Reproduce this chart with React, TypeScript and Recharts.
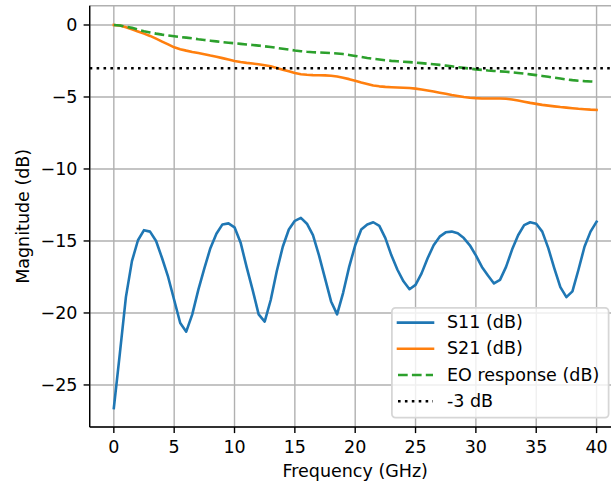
import React from 'react';
import { LineChart, Line, XAxis, YAxis, CartesianGrid, ReferenceLine, Legend } from 'recharts';

// Frequency grid (GHz)
const freqGHz = [
  0, 0.5, 1, 1.5, 2, 2.5, 3, 3.5, 4, 4.5,
  5, 5.5, 6, 6.5, 7, 7.5, 8, 8.5, 9, 9.5,
  10, 10.5, 11, 11.5, 12, 12.5, 13, 13.5, 14, 14.5,
  15, 15.5, 16, 16.5, 17, 17.5, 18, 18.5, 19, 19.5,
  20, 20.5, 21, 21.5, 22, 22.5, 23, 23.5, 24, 24.5,
  25, 25.5, 26, 26.5, 27, 27.5, 28, 28.5, 29, 29.5,
  30, 30.5, 31, 31.5, 32, 32.5, 33, 33.5, 34, 34.5,
  35, 35.5, 36, 36.5, 37, 37.5, 38, 38.5, 39, 39.5,
  40,
];

const s11dB = [
  -26.6, -22.8, -18.9, -16.4, -14.95, -14.25, -14.35, -15.0, -16.2, -17.5,
  -19.1, -20.7, -21.3, -20.1, -18.4, -16.9, -15.5, -14.5, -13.85, -13.78,
  -14.05, -15.1, -16.8, -18.4, -20.1, -20.6, -19.1, -17.1, -15.4, -14.2,
  -13.6, -13.4, -13.8, -14.6, -16.0, -17.6, -19.2, -20.1, -18.6, -16.8,
  -15.3, -14.2, -13.85, -13.7, -13.95, -14.8, -16.0, -17.0, -17.8, -18.35,
  -18.05, -17.25, -16.2, -15.3, -14.7, -14.4, -14.35, -14.47, -14.8, -15.3,
  -16.0, -16.8, -17.4, -17.95, -17.7, -16.8, -15.6, -14.6, -13.9, -13.7,
  -13.8, -14.35, -15.5, -16.9, -18.2, -18.9, -18.5, -17.0, -15.4, -14.35,
  -13.66,
];

const s21dB = [
  0, -0.03, -0.15, -0.3, -0.45, -0.6, -0.76, -0.95, -1.15, -1.35,
  -1.55, -1.68, -1.78, -1.87, -1.95, -2.03, -2.12, -2.2, -2.3, -2.4,
  -2.5, -2.57, -2.63, -2.68, -2.73, -2.79, -2.87, -2.98, -3.1, -3.22,
  -3.34, -3.42, -3.46, -3.48, -3.49, -3.5, -3.53, -3.58, -3.66, -3.76,
  -3.88, -4.0, -4.1, -4.2, -4.26, -4.3, -4.32, -4.34, -4.36, -4.38,
  -4.42, -4.48, -4.55, -4.62, -4.7, -4.78, -4.86, -4.93, -5.0, -5.05,
  -5.08, -5.1, -5.1, -5.1, -5.1, -5.12, -5.17, -5.25, -5.33, -5.41,
  -5.48, -5.55, -5.6, -5.65, -5.7, -5.74, -5.78, -5.82, -5.85, -5.88,
  -5.9,
];

const eoDB = [
  0, -0.04, -0.12, -0.2, -0.32, -0.44, -0.52, -0.6, -0.67, -0.73,
  -0.78, -0.83, -0.88, -0.93, -0.99, -1.04, -1.09, -1.14, -1.19, -1.23,
  -1.27, -1.31, -1.35, -1.39, -1.43, -1.48, -1.53, -1.59, -1.65, -1.71,
  -1.77, -1.82, -1.86, -1.89, -1.91, -1.93, -1.95, -1.98, -2.02, -2.08,
  -2.15, -2.22, -2.29, -2.35, -2.4, -2.45, -2.49, -2.52, -2.55, -2.58,
  -2.61, -2.65, -2.69, -2.73, -2.77, -2.82, -2.87, -2.93, -2.98, -3.03,
  -3.08, -3.12, -3.16, -3.19, -3.22, -3.25, -3.29, -3.33, -3.38, -3.43,
  -3.48, -3.54, -3.6, -3.66, -3.72, -3.78, -3.83, -3.87, -3.9, -3.92,
  -3.94,
];

const thresholdDB = -3;
const xTicks = [0, 5, 10, 15, 20, 25, 30, 35, 40];
const yTicks = [-25, -20, -15, -10, -5, 0];
const xDomain = [-2, 42];
const yDomain = [-27.92, 1.34];
const seriesLabels = ['S11 (dB)', 'S21 (dB)', 'EO response (dB)', '-3 dB'];
const xLabel = 'Frequency (GHz)';
const yLabel = 'Magnitude (dB)';

const data = freqGHz.map((f, i) => ({ f, s11: s11dB[i], s21: s21dB[i], eo: eoDB[i] }));

// Styling / layout
const FONT = 'DejaVu Sans';
const FS = 17.5;
const LW = 2.6;
const SPINE = 1.4;
const C1 = '#1f77b4';
const C2 = '#ff7f0e';
const C3 = '#2ca02c';
const EO_DASH = '9.7 4.2';
const DOT_DASH = '2.6 4.3';

const CHART_W = 640;
const CHART_H = 487;
const M_TOP = 5.7;
const M_RIGHT = 19.3;
const Y_AXIS_W = 89.7;
const X_AXIS_H = 60;
const PLOT_LEFT = Y_AXIS_W;
const PLOT_RIGHT = CHART_W - M_RIGHT;
const PLOT_TOP = M_TOP;
const PLOT_BOTTOM = CHART_H - X_AXIS_H;

const legendItems = [
  { label: seriesLabels[0], color: C1, dash: undefined as string | undefined, cap: 'square' },
  { label: seriesLabels[1], color: C2, dash: undefined as string | undefined, cap: 'square' },
  { label: seriesLabels[2], color: C3, dash: EO_DASH, cap: 'butt' },
  { label: seriesLabels[3], color: '#000', dash: DOT_DASH, cap: 'butt' },
];

const LEG_W = 218.5;
const LEG_H = 111.5;

const LegendBox = () => (
  <svg width={LEG_W + 2} height={LEG_H + 2} style={{ display: 'block', overflow: 'visible' }}>
    <rect
      x={0.9}
      y={0.9}
      width={LEG_W - 1.8}
      height={LEG_H - 1.8}
      rx={3.5}
      ry={3.5}
      fill="rgba(255,255,255,0.8)"
      stroke="#d6d6d6"
      strokeWidth={1.75}
    />
    {legendItems.map((it, i) => {
      const cy = 15.6 + i * 26.2;
      return (
        <g key={it.label}>
          <line
            x1={7}
            x2={42}
            y1={cy}
            y2={cy}
            stroke={it.color}
            strokeWidth={LW}
            strokeDasharray={it.dash}
            strokeLinecap={it.cap as any}
          />
          <text x={56} y={cy + 5.5} fontFamily={FONT} fontSize={FS} fill="#000">
            {it.label}
          </text>
        </g>
      );
    })}
  </svg>
);

const fmtY = (v: number) => String(v).replace('-', '\u2212');

export default function App() {
  return (
    <div
      style={{
        position: 'absolute',
        left: 0,
        top: 0,
        width: 611,
        height: 487,
        overflow: 'hidden',
        background: '#fff',
      }}
    >
      <LineChart
        width={CHART_W}
        height={CHART_H}
        data={data}
        margin={{ top: M_TOP, right: M_RIGHT, bottom: 0, left: 0 }}
        style={{ fontFamily: FONT }}
      >
        <CartesianGrid stroke="#b0b0b0" strokeWidth={SPINE} />
        <XAxis
          dataKey="f"
          type="number"
          domain={xDomain}
          ticks={xTicks}
          allowDataOverflow
          height={X_AXIS_H}
          axisLine={{ stroke: '#000', strokeWidth: SPINE }}
          tickLine={{ stroke: '#000', strokeWidth: SPINE }}
          tickSize={6.1}
          tickMargin={7}
          tick={{ fill: '#000', fontSize: FS, fontFamily: FONT }}
          label={() => (
            <text
              x={(PLOT_LEFT + PLOT_RIGHT) / 2}
              y={477}
              textAnchor="middle"
              fontFamily={FONT}
              fontSize={FS}
              fill="#000"
            >
              {xLabel}
            </text>
          )}
        />
        <XAxis
          xAxisId="top"
          orientation="top"
          dataKey="f"
          type="number"
          domain={xDomain}
          allowDataOverflow
          height={0}
          tick={false}
          tickLine={false}
          axisLine={{ stroke: '#000', strokeWidth: SPINE }}
        />
        <YAxis
          type="number"
          domain={yDomain}
          ticks={yTicks}
          allowDataOverflow
          width={Y_AXIS_W}
          axisLine={{ stroke: '#000', strokeWidth: SPINE }}
          tickLine={{ stroke: '#000', strokeWidth: SPINE }}
          tickSize={6.1}
          tickMargin={6.1}
          tickFormatter={fmtY}
          tick={{ fill: '#000', fontSize: FS, fontFamily: FONT }}
          label={() => (
            <text
              x={29}
              y={(PLOT_TOP + PLOT_BOTTOM) / 2}
              transform={`rotate(-90 29 ${(PLOT_TOP + PLOT_BOTTOM) / 2})`}
              textAnchor="middle"
              fontFamily={FONT}
              fontSize={FS}
              fill="#000"
            >
              {yLabel}
            </text>
          )}
        />
        <Line
          type="linear"
          dataKey="s11"
          stroke={C1}
          strokeWidth={LW}
          strokeLinejoin="round"
          strokeLinecap="square"
          dot={false}
          activeDot={false}
          isAnimationActive={false}
        />
        <Line
          type="linear"
          dataKey="s21"
          stroke={C2}
          strokeWidth={LW}
          strokeLinejoin="round"
          strokeLinecap="square"
          dot={false}
          activeDot={false}
          isAnimationActive={false}
        />
        <Line
          type="linear"
          dataKey="eo"
          stroke={C3}
          strokeWidth={LW}
          strokeDasharray={EO_DASH}
          strokeLinejoin="round"
          dot={false}
          activeDot={false}
          isAnimationActive={false}
        />
        <ReferenceLine y={thresholdDB} stroke="#000" strokeWidth={LW} strokeDasharray={DOT_DASH} />
        <Legend
          layout="horizontal"
          align="center"
          verticalAlign="middle"
          content={() => <LegendBox />}
          wrapperStyle={{ left: 391, top: 307, width: LEG_W + 2, height: LEG_H + 2 }}
        />
      </LineChart>
    </div>
  );
}
